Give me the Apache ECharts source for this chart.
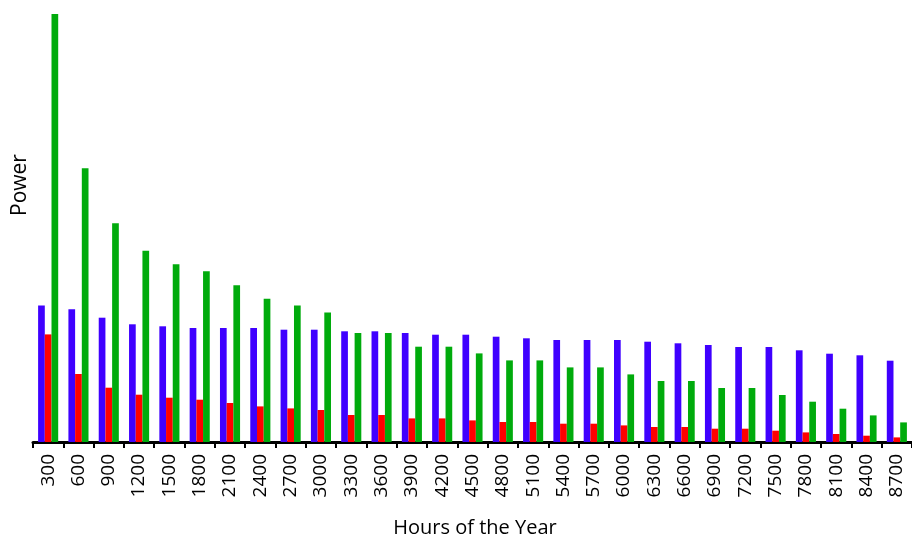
<!DOCTYPE html>
<html>
<head>
<meta charset="utf-8">
<script src="https://cdn.jsdelivr.net/npm/echarts@6/dist/echarts.min.js"></script>
<style>html,body{margin:0;padding:0;background:#fff;}#c{width:912px;height:539px;}</style>
</head>
<body>
<div id="c"></div>
<script>
var hours = ['300','600','900','1200','1500','1800','2100','2400','2700','3000','3300','3600','3900','4200','4500','4800','5100','5400','5700','6000','6300','6600','6900','7200','7500','7800','8100','8400','8700'];
var bluePower = [136.6,132.7,124.3,117.7,115.7,114,114,114,112.3,112.3,110.7,110.7,109,107.3,107.3,105.3,103.7,102,102,102,100.3,98.7,97,95,95,91.7,88.3,86.7,81.3];
var redPower = [107.6,68,54.3,47.3,44.3,42.3,39,35.6,33.6,32,27,27,23.6,23.6,21.6,20,20,18.3,18.3,16.6,15,15,13.3,13.3,11.3,9.6,8,6.3,4.6];
var greenPower = [428,273.7,218.7,191.3,177.7,170.7,156.7,143.3,136.6,129.6,109,109,95.3,95.3,88.6,81.6,81.6,74.6,74.6,67.6,61,61,54,54,47,40.3,33.3,26.6,19.6];

var chart = echarts.init(document.getElementById('c'), null, {renderer:'canvas'});
var font = '"Open Sans", "Noto Sans", sans-serif';
function bar(name, data, color){
  return {name:name, type:'bar', data:data, barWidth:6.7, barGap:'0%',
    itemStyle:{color:color}, animation:false};
}
chart.setOption({
  animation:false,
  grid:{left:33, top:14, width:887, bottom:97, containLabel:false},
  xAxis:{type:'category', data:hours,
    axisLine:{show:true, lineStyle:{color:'#000', width:3}},
    axisTick:{show:true, alignWithLabel:false, length:6, lineStyle:{color:'#000', width:2}},
    axisLabel:{rotate:90, interval:0, fontFamily:font, fontSize:19, color:'#000', margin:12}
  },
  yAxis:{type:'value', min:0, max:428, show:false, splitLine:{show:false}},
  series:[bar('A', bluePower, '#3f00ff'), bar('B', redPower, '#ff0000'), bar('C', greenPower, '#00ab0c')],
  graphic:[
    {type:'text', x:475, y:528, style:{text:'Hours of the Year', fontFamily:font, fontSize:20, fill:'#000', textAlign:'center', textVerticalAlign:'middle'}},
    {type:'text', x:20, y:185, rotation:Math.PI/2, style:{text:'Power', fontFamily:font, fontSize:21, fill:'#000', textAlign:'center', textVerticalAlign:'middle'}}
  ]
});
</script>
</body>
</html>
